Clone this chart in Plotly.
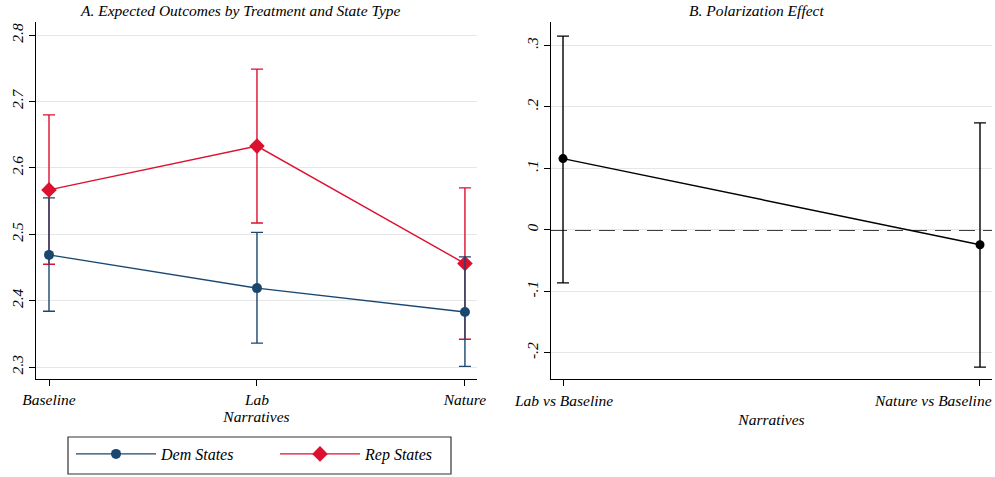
import plotly.graph_objects as go

# Panel A: expected outcomes by narrative and state type
narratives = ["Baseline", "Lab", "Nature"]
dem_mean = [2.469, 2.419, 2.383]
dem_lo = [2.384, 2.336, 2.301]
dem_hi = [2.555, 2.503, 2.466]
rep_mean = [2.567, 2.633, 2.456]
rep_lo = [2.455, 2.517, 2.342]
rep_hi = [2.680, 2.749, 2.570]

# Panel B: polarization effect (Rep - Dem gap relative to baseline)
contrasts = ["Lab vs Baseline", "Nature vs Baseline"]
pol_mean = [0.116, -0.024]
pol_lo = [-0.086, -0.223]
pol_hi = [0.315, 0.174]

left_ticks = [2.3, 2.4, 2.5, 2.6, 2.7, 2.8]
left_ticktext = ["2.3", "2.4", "2.5", "2.6", "2.7", "2.8"]
right_ticks = [-0.2, -0.1, 0, 0.1, 0.2, 0.3]
right_ticktext = ["-.2", "-.1", "0", ".1", ".2", ".3"]

BLUE = "#1a476f"
RED = "#dc102f"
SERIF = "Liberation Serif, Times New Roman, serif"
W, H = 995, 477

def err(mean, lo, hi):
    return dict(type="data", symmetric=False,
                array=[h - m for h, m in zip(hi, mean)],
                arrayminus=[m - l for m, l in zip(mean, lo)],
                width=6, thickness=1.4)

fig = go.Figure()

xa = list(range(len(narratives)))
fig.add_trace(go.Scatter(
    x=xa, y=rep_mean, mode="lines+markers", name="Rep States",
    line=dict(color=RED, width=1.4),
    marker=dict(symbol="diamond", size=12, color=RED),
    error_y=dict(err(rep_mean, rep_lo, rep_hi), color=RED),
    legendrank=2, xaxis="x", yaxis="y"))
fig.add_trace(go.Scatter(
    x=xa, y=dem_mean, mode="lines+markers", name="Dem States",
    line=dict(color=BLUE, width=1.4),
    marker=dict(symbol="circle", size=10, color=BLUE),
    error_y=dict(err(dem_mean, dem_lo, dem_hi), color=BLUE),
    legendrank=1, xaxis="x", yaxis="y"))

xb = list(range(len(contrasts)))
fig.add_trace(go.Scatter(
    x=xb, y=pol_mean, mode="lines+markers", showlegend=False,
    line=dict(color="black", width=1.4),
    marker=dict(symbol="circle", size=9, color="black"),
    error_y=dict(err(pol_mean, pol_lo, pol_hi), color="black"),
    xaxis="x2", yaxis="y2"))

# zero reference line in panel B
fig.add_shape(type="line", xref="x2 domain", yref="y2", x0=0, x1=1, y0=0, y1=0,
              line=dict(color="black", width=1.5, dash="16px,8px"), layer="below")
# frame around the legend
fig.add_shape(type="rect", xref="paper", yref="paper",
              x0=68 / W, x1=451 / W, y0=(H - 474) / H, y1=(H - 437) / H,
              line=dict(color="#333333", width=1.2), fillcolor="rgba(0,0,0,0)")

tickfont = dict(family=SERIF, size=15.5, color="black", style="italic")
common_x = dict(showgrid=False, showline=True, linecolor="black", linewidth=1.2,
                ticks="outside", ticklen=6, tickcolor="black", tickfont=tickfont,
                zeroline=False, fixedrange=True, automargin=False,
                ticklabeloverflow="allow")
common_y = dict(showgrid=True, gridcolor="#e6e6e6", gridwidth=1, showline=True,
                linecolor="black", linewidth=1.2, ticks="outside", ticklen=6,
                tickcolor="black", tickfont=tickfont, tickangle=-90,
                zeroline=False, fixedrange=True, automargin=False,
                ticklabeloverflow="allow")
axis_title_font = dict(family=SERIF, size=15.5, style="italic", color="black")

# Panel B category labels: the last one is kept flush with the right edge
contrast_annotations = []
for i, label in enumerate(contrasts):
    last = i == len(contrasts) - 1
    contrast_annotations.append(dict(
        text=label, x=xb[i], xref="x2", y=(H - 400) / H, yref="paper",
        xanchor="right" if last else "center", yanchor="middle",
        xshift=14 if last else 0, showarrow=False, font=tickfont))

fig.update_layout(
    width=W, height=H,
    margin=dict(l=0, r=0, t=0, b=0),
    paper_bgcolor="white", plot_bgcolor="white",
    font=dict(family=SERIF, color="black"),
    xaxis=dict(common_x, domain=[36 / W, 477 / W], range=[-0.0625, 2.058],
               tickvals=xa, ticktext=narratives,
               title=dict(text="Narratives", standoff=3, font=axis_title_font)),
    yaxis=dict(common_y, domain=[(H - 379) / H, (H - 22) / H], range=[2.282, 2.82],
               tickvals=left_ticks, ticktext=left_ticktext),
    xaxis2=dict(common_x, domain=[551 / W, 992 / W], range=[-0.0288, 1.0288],
                anchor="y2", tickvals=xb, ticktext=contrasts, showticklabels=False,
                title=dict(text="Narratives", standoff=29, font=axis_title_font)),
    yaxis2=dict(common_y, domain=[(H - 379) / H, (H - 22) / H], range=[-0.2423, 0.338],
                anchor="x2", tickvals=right_ticks, ticktext=right_ticktext),
    legend=dict(orientation="h", x=71 / W, xanchor="left", y=(H - 437) / H, yanchor="top",
                borderwidth=0, bgcolor="rgba(0,0,0,0)",
                font=dict(family=SERIF, size=16, style="italic", color="black"),
                itemwidth=80, entrywidth=109, entrywidthmode="pixels",
                traceorder="normal"),
    annotations=[
        dict(text="A. Expected Outcomes by Treatment and State Type", x=240 / W, y=1.0,
             xref="paper", yref="paper", xanchor="center", yanchor="top", showarrow=False,
             font=dict(family=SERIF, size=15.5, style="italic")),
        dict(text="B. Polarization Effect", x=756 / W, y=1.0,
             xref="paper", yref="paper", xanchor="center", yanchor="top", showarrow=False,
             font=dict(family=SERIF, size=15.5, style="italic")),
    ] + contrast_annotations,
)

fig.write_html("out.html")
